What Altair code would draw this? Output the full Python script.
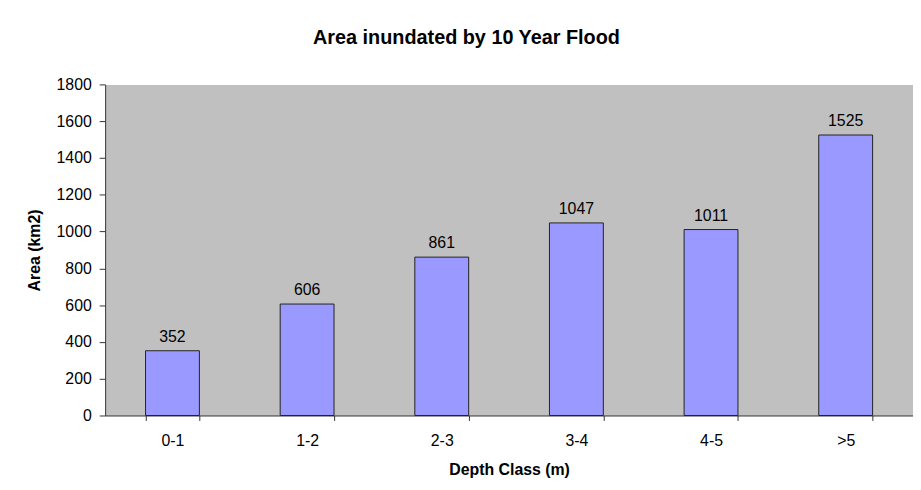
import altair as alt
import pandas as pd

categories = ["0-1", "1-2", "2-3", "3-4", "4-5", ">5"]
values = [352, 606, 861, 1047, 1011, 1525]
y_ticks = [0, 200, 400, 600, 800, 1000, 1200, 1400, 1600, 1800]

df = pd.DataFrame({"cls": categories, "area": values})

FONT = "Liberation Sans"

base = alt.Chart(df).encode(
    x=alt.X(
        "cls:N",
        sort=categories,
        scale=alt.Scale(paddingInner=0.6, paddingOuter=0.3),
        axis=alt.Axis(
            title="Depth Class (m)",
            labelAngle=0,
            tickBand="extent",
            tickSize=5,
            labelPadding=12,
            labelFontSize=16,
            labelFont=FONT,
            labelColor="#000000",
            titleFont=FONT,
            titleFontSize=16,
            titleFontWeight="bold",
            titleColor="#000000",
            titleBaseline="alphabetic",
            titleY=60,
            domainColor="#333333",
            tickColor="#333333",
            grid=False,
        ),
    ),
    y=alt.Y(
        "area:Q",
        scale=alt.Scale(domain=[0, 1800], nice=False),
        axis=alt.Axis(
            title="Area (km2)",
            values=y_ticks,
            format="d",
            tickSize=6,
            labelPadding=8,
            labelFontSize=16,
            labelFont=FONT,
            labelColor="#000000",
            titleFont=FONT,
            titleFontSize=16,
            titleFontWeight="bold",
            titleColor="#000000",
            titleBaseline="middle",
            titleX=-71,
            titleY=167,
            domainColor="#333333",
            tickColor="#333333",
            grid=False,
        ),
    ),
)

bars = base.mark_bar(color="#9999FF", stroke="#222222", strokeWidth=1)
labels = base.mark_text(
    baseline="alphabetic", dy=-9, fontSize=16, font=FONT, color="#000000"
).encode(text="area:Q")

chart = (
    (bars + labels)
    .properties(
        width=815,
        height=334,
        title=alt.TitleParams(
            text="Area inundated by  10 Year Flood",
            font=FONT,
            fontSize=20,
            fontWeight="bold",
            color="#000000",
            anchor="middle",
            dx=-43,
            offset=13,
            baseline="alphabetic",
        ),
        autosize=alt.AutoSizeParams(type="none"),
        padding={"left": 98, "top": 75, "right": 0, "bottom": 65},
    )
    .configure_view(fill="#C0C0C0", stroke="transparent")
)

chart.save("out.html", embed_options={"renderer": "svg", "actions": False})
